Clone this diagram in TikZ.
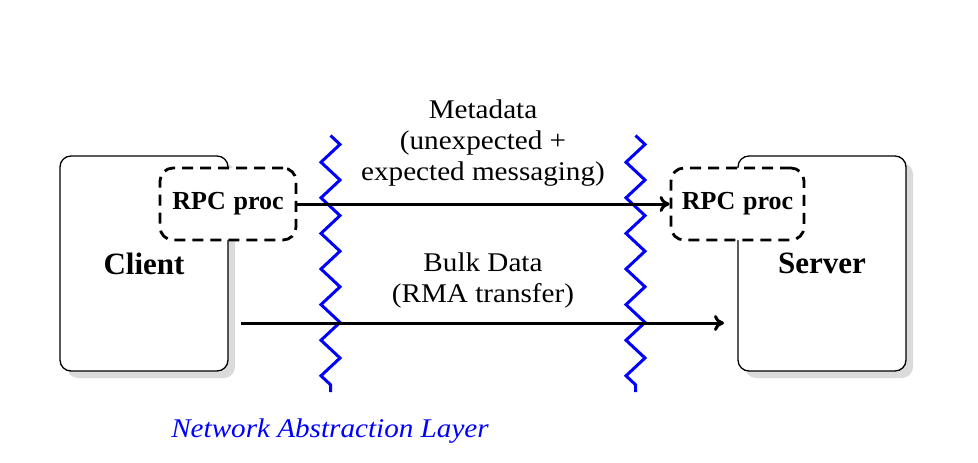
\documentclass[tikz,border=0pt]{standalone}
\usepackage{fontspec}
\setmainfont{Liberation Serif}
\newfontfamily\widefont[FakeStretch=1.08]{Liberation Serif}
\usetikzlibrary{arrows.meta,shadows,decorations.pathmorphing}
\begin{document}
\begin{tikzpicture}[x=1pt,y=-1pt,
  hostbox/.style={draw=black, line width=1.3pt, rounded corners=11pt, fill=white,
    minimum width=168pt, minimum height=215pt, inner sep=0pt,
    font=\fontsize{31}{36}\selectfont\bfseries,
    drop shadow={shadow xshift=7pt, shadow yshift=-7pt, fill=black!14, opacity=1}},
  rpcbox/.style={draw=black, line width=2.8pt, dash pattern=on 11pt off 7pt,
    rounded corners=13pt, fill=white, minimum height=72pt, inner sep=0pt,
    font=\fontsize{26}{30}\selectfont\bfseries},
  wire/.style={draw=black, line width=3pt, -{To[length=10pt,width=16pt]}},
  layer/.style={draw=blue, line width=3pt, decorate,
    decoration={zigzag, segment length=35.6pt, amplitude=9.5pt}},
  textlabel/.style={font=\widefont\fontsize{27}{31}\selectfont, align=center}
]
\useasboundingbox (0,0) rectangle (978,463);

% hosts
\node[hostbox] (client) at (144,263.5) {Client};
\node[hostbox] (server) at (822,263.5) {Server};

% network abstraction layer boundaries
\coordinate (z1top) at (330.5,135.5);
\coordinate (z1bot) at (330.5,392);
\coordinate (z2top) at (635.5,135.5);
\coordinate (z2bot) at (635.5,392);
\draw[layer] (z1top) -- (z1bot);
\draw[layer] (z2top) -- (z2bot);

% RPC processes
\node[rpcbox, minimum width=136pt] (crpc) at (228,204) {RPC\hspace{0.3em}proc};
\node[rpcbox, minimum width=133pt] (srpc) at (737.5,204) {RPC\hspace{0.3em}proc};

% connectors
\coordinate (bstart) at (241,323);
\coordinate (bend) at (724,323);
\draw[wire] (crpc.east) -- (srpc.west);
\draw[wire] (bstart) -- (bend);

% labels
\node[textlabel] (meta) at (483,143) {Metadata\\(unexpected +\\expected messaging)};
\node[textlabel] (bulk) at (483,281) {Bulk Data\\(RMA transfer)};
\node[textlabel, font=\widefont\itshape\fontsize{27}{31}\selectfont, text=blue] (nal) at (330,431) {Network Abstraction Layer};
\end{tikzpicture}
\end{document}
